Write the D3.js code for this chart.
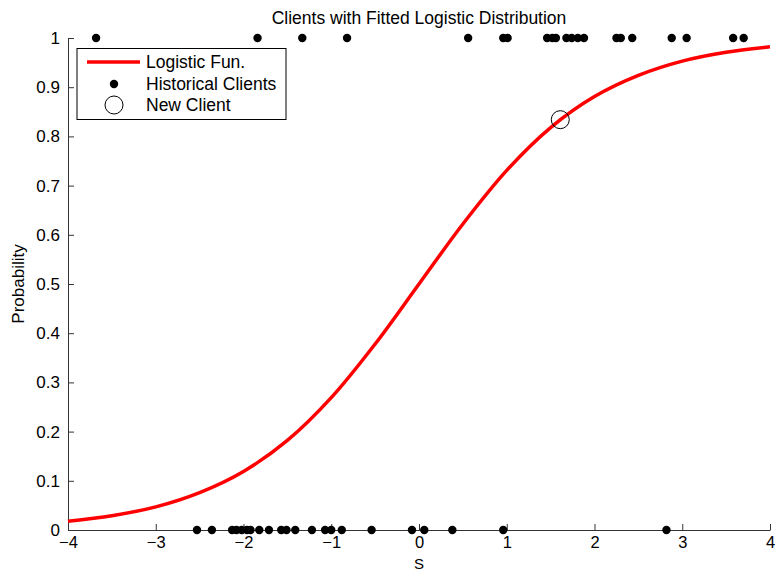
<!DOCTYPE html>
<html>
<head>
<meta charset="utf-8">
<script src="https://cdn.jsdelivr.net/npm/d3@7"></script>
<style>
  html, body { margin: 0; padding: 0; background: #fff; }
  svg { display: block; font-family: "Liberation Sans", Arial, Helvetica, sans-serif; }
</style>
</head>
<body>
<svg id="chart" width="776" height="572"></svg>
<script>
// ---- data ----
const curveS    = [-4, -3.5, -3, -2.5, -2, -1.5, -1, -0.5, 0, 0.5, 1, 1.5, 2, 2.5, 3, 3.5, 4];
const curveProb = [0.018, 0.029, 0.047, 0.076, 0.119, 0.182, 0.269, 0.378, 0.5, 0.622, 0.731, 0.818, 0.881, 0.924, 0.953, 0.971, 0.982];

const clientsGood = [-3.68, -1.84, -1.33, -0.82, 0.56, 0.96, 1.01, 1.46, 1.52, 1.56, 1.68, 1.74, 1.81, 1.88,
                     2.25, 2.30, 2.43, 2.88, 3.05, 3.58, 3.70];
const clientsBad  = [-2.53, -2.36, -2.13, -2.08, -2.02, -1.96, -1.92, -1.82, -1.71, -1.57, -1.51, -1.41,
                     -1.22, -1.07, -1.00, -0.88, -0.54, -0.08, 0.06, 0.38, 0.96, 2.82];
const newClient = { s: 1.61, p: 0.834 };

const xTicks = [-4, -3, -2, -1, 0, 1, 2, 3, 4];
const yTicks = [0, 0.1, 0.2, 0.3, 0.4, 0.5, 0.6, 0.7, 0.8, 0.9, 1];
const legendLabels = ["Logistic Fun.", "Historical Clients", "New Client"];

// ---- layout ----
const svg = d3.select("#chart");
const mLeft = 68, mRight = 770, mTop = 38, mBottom = 530;
const x = d3.scaleLinear().domain([-4, 4]).range([mLeft, mRight]);
const y = d3.scaleLinear().domain([0, 1]).range([mBottom, mTop]);
const axisColor = "#333";
const tickFont = 17, textFont = 17.5;

// title
svg.append("text").attr("x", (mLeft + mRight) / 2).attr("y", 24)
  .attr("text-anchor", "middle").attr("font-size", textFont).attr("fill", "#000")
  .text("Clients with Fitted Logistic Distribution");

// axes
const xAxis = svg.append("g").attr("transform", `translate(0,${mBottom})`)
  .call(d3.axisBottom(x).tickValues(xTicks).tickSizeInner(-6).tickSizeOuter(0).tickPadding(6)
    .tickFormat(d => d < 0 ? "\u2212" + Math.abs(d) : d));
const yAxis = svg.append("g").attr("transform", `translate(${mLeft},0)`)
  .call(d3.axisLeft(y).tickValues(yTicks).tickSizeInner(-6).tickSizeOuter(0).tickPadding(8)
    .tickFormat(d => d3.format("")(d)));
[xAxis, yAxis].forEach(g => {
  g.select(".domain").attr("stroke", axisColor).attr("stroke-width", 1);
  g.selectAll(".tick line").attr("stroke", axisColor);
  g.selectAll(".tick text").attr("font-size", tickFont).attr("fill", "#000")
    .attr("font-family", "Liberation Sans, Arial, sans-serif");
});
xAxis.selectAll(".tick text").attr("font-size", 16.5);

// axis labels
svg.append("text").attr("x", (mLeft + mRight) / 2).attr("y", 568.5)
  .attr("text-anchor", "middle").attr("font-size", 15).text("S");
svg.append("text").attr("transform", `translate(24,${(mTop + mBottom) / 2}) rotate(-90)`)
  .attr("text-anchor", "middle").attr("font-size", tickFont).text("Probability");

// logistic curve
const curveData = curveS.map((s, i) => ({ s, p: curveProb[i] }));
svg.append("path").datum(curveData)
  .attr("fill", "none").attr("stroke", "#ff0000").attr("stroke-width", 3.5)
  .attr("d", d3.line().x(d => x(d.s)).y(d => y(d.p)).curve(d3.curveCatmullRom.alpha(0.5)));

// historical clients
svg.append("g").selectAll("circle").data(clientsGood).join("circle")
  .attr("cx", d => x(d)).attr("cy", y(1)).attr("r", 4.2).attr("fill", "#000");
svg.append("g").selectAll("circle").data(clientsBad).join("circle")
  .attr("cx", d => x(d)).attr("cy", y(0)).attr("r", 4.2).attr("fill", "#000");

// new client
svg.append("circle").attr("cx", x(newClient.s)).attr("cy", y(newClient.p)).attr("r", 9)
  .attr("fill", "none").attr("stroke", "#000").attr("stroke-width", 1);

// legend
const lg = svg.append("g");
lg.append("rect").attr("x", 77).attr("y", 48.5).attr("width", 209).attr("height", 71)
  .attr("fill", "#fff").attr("stroke", "#000").attr("stroke-width", 1);
lg.append("line").attr("x1", 87).attr("x2", 140).attr("y1", 62).attr("y2", 62)
  .attr("stroke", "#ff0000").attr("stroke-width", 3.5);
lg.append("circle").attr("cx", 114).attr("cy", 84).attr("r", 4.2).attr("fill", "#000");
lg.append("circle").attr("cx", 114).attr("cy", 105).attr("r", 9).attr("fill", "#fff")
  .attr("stroke", "#000").attr("stroke-width", 1);
legendLabels.forEach((t, i) => {
  lg.append("text").attr("x", 146).attr("y", 62 + i * 21.5).attr("dy", "0.35em")
    .attr("font-size", textFont).attr("fill", "#000").text(t);
});
</script>
</body>
</html>
